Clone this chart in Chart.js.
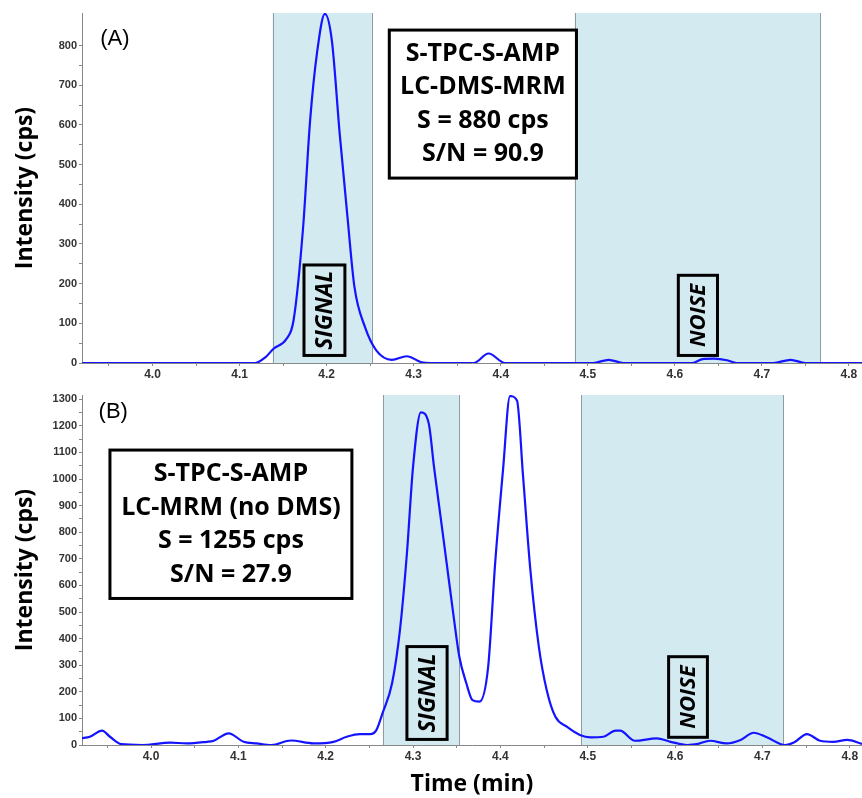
<!DOCTYPE html>
<html>
<head>
<meta charset="utf-8">
<script src="https://cdn.jsdelivr.net/npm/chart.js@4.4.1/dist/chart.umd.min.js"></script>
<style>
  body { margin: 0; background: #fff; }
  .panel { position: absolute; left: 0; width: 862px; }
  #panelA { top: 0; height: 380px; }
  #panelB { top: 380px; height: 418px; }
</style>
</head>
<body>
<div class="panel" id="panelA"><canvas id="chartA"></canvas></div>
<div class="panel" id="panelB"><canvas id="chartB"></canvas></div>
<script>
// (A) LC-DMS-MRM trace
const timeA = [3.919, 4.118, 4.130, 4.139, 4.154, 4.162, 4.173, 4.181, 4.189, 4.198,
  4.206, 4.215, 4.224, 4.232, 4.244, 4.257, 4.275, 4.292, 4.309, 4.320,
  4.369, 4.386, 4.405, 4.506, 4.524, 4.541, 4.620, 4.632, 4.645, 4.660,
  4.671, 4.713, 4.733, 4.750, 4.815];
const intensityA = [0, 0, 15, 36, 61, 107, 342, 610, 782, 880,
  813, 578, 367, 191, 91, 32, 8, 17, 2, 0,
  0, 24, 0, 0, 8, 0, 0, 10, 11, 7,
  0, 0, 8, 0, 0];

// (B) LC-MRM trace (no DMS)
const timeB = [3.920, 3.930, 3.944, 3.953, 3.966, 3.990, 4.022, 4.041, 4.064, 4.071,
  4.089, 4.106, 4.121, 4.138, 4.160, 4.186, 4.209, 4.224, 4.239, 4.251,
  4.258, 4.265, 4.276, 4.285, 4.293, 4.300, 4.309, 4.318, 4.324, 4.331,
  4.338, 4.346, 4.353, 4.361, 4.368, 4.376, 4.386, 4.394, 4.403, 4.411,
  4.419, 4.426, 4.434, 4.444, 4.453, 4.463, 4.476, 4.491, 4.503, 4.518,
  4.532, 4.537, 4.554, 4.579, 4.595, 4.614, 4.625, 4.640, 4.659, 4.675,
  4.690, 4.705, 4.726, 4.736, 4.751, 4.766, 4.781, 4.797, 4.814];
const intensityB = [25, 31, 54, 31, 3, 0, 9, 6, 12, 15,
  44, 12, 6, 0, 17, 6, 12, 31, 41, 41,
  56, 119, 232, 432, 721, 1046, 1251, 1209, 1046, 871,
  696, 495, 332, 232, 169, 163, 294, 683, 1034, 1312,
  1295, 1009, 670, 370, 207, 106, 69, 38, 29, 31,
  54, 54, 16, 25, 12, 0, 3, 16, 6, 19,
  46, 29, 0, 9, 41, 16, 12, 19, 4];

// axis ticks
const timeTicks = ['4.0', '4.1', '4.2', '4.3', '4.4', '4.5', '4.6', '4.7', '4.8'];
const timeMinorTicks = [3.95, 4.05, 4.15, 4.25, 4.35, 4.45, 4.55, 4.65, 4.75];
const intensityTicksA = [0, 100, 200, 300, 400, 500, 600, 700, 800];
const intensityTicksB = [0, 100, 200, 300, 400, 500, 600, 700, 800, 900, 1000, 1100, 1200, 1300];

// integration windows [start, end] in min
const signalA = [4.138, 4.252];
const noiseA = [4.485, 4.767];
const signalB = [4.2654, 4.353];
const noiseB = [4.4926, 4.724];

const BOLD = "'Open Sans', 'Noto Sans', sans-serif";
const TICKFONT = "'Liberation Sans', Arial, sans-serif";

// shaded windows, label boxes and the panel letter (one plugin per chart)
function panelMarks(cfg) {
    return {
        id: 'panelMarks',
        beforeDatasetsDraw(chart) {
            const { ctx, chartArea: a, scales: { x } } = chart;
            ctx.save();
            cfg.shades.forEach(win => {
                const l = x.getPixelForValue(win[0]);
                const r = x.getPixelForValue(win[1]);
                ctx.fillStyle = '#d4eaf1';
                ctx.fillRect(l, a.top, r - l, a.bottom - a.top);
                ctx.strokeStyle = '#8f9ca1';
                ctx.lineWidth = 1;
                ctx.beginPath();
                [l, r].forEach(px => {
                    ctx.moveTo(Math.round(px) + 0.5, a.top);
                    ctx.lineTo(Math.round(px) + 0.5, a.bottom);
                });
                ctx.stroke();
            });
            ctx.restore();
        },
        afterDatasetsDraw(chart) {
            const { ctx, scales: { x, y } } = chart;
            ctx.save();
            cfg.boxes.forEach(b => {
                const l = x.getPixelForValue(b.t[0]);
                const r = x.getPixelForValue(b.t[1]);
                const top = y.getPixelForValue(b.i[1]);
                const bot = y.getPixelForValue(b.i[0]);
                if (b.bg) {
                    ctx.fillStyle = b.bg;
                    ctx.fillRect(l, top, r - l, bot - top);
                }
                ctx.lineWidth = 3;
                ctx.strokeStyle = '#000';
                ctx.strokeRect(l, top, r - l, bot - top);
                ctx.fillStyle = '#000';
                ctx.font = b.textFont;
                ctx.textAlign = 'center';
                ctx.textBaseline = 'middle';
                const cx = (l + r) / 2, cy = (top + bot) / 2;
                if (b.rotate) {
                    ctx.save();
                    ctx.translate(cx, cy);
                    ctx.rotate(-Math.PI / 2);
                    ctx.fillText(b.lines[0], 0, 1);
                    ctx.restore();
                } else {
                    b.lines.forEach((s, k) => {
                        ctx.fillText(s, cx, cy + (k - (b.lines.length - 1) / 2) * b.gap);
                    });
                }
            });
            ctx.font = "22px " + TICKFONT;
            ctx.fillStyle = '#000';
            ctx.textAlign = 'left';
            ctx.textBaseline = 'middle';
            ctx.fillText(cfg.tag.text, x.getPixelForValue(cfg.tag.t), y.getPixelForValue(cfg.tag.i));
            ctx.restore();
        }
    };
}

function makeChart(id, times, values, cfg) {
    const points = times.map((t, k) => ({ x: t, y: values[k] }));
    const yTicks = cfg.yTicks;
    return new Chart(document.getElementById(id), {
        type: 'line',
        data: {
            datasets: [{
                data: points,
                borderColor: '#1414ff',
                borderWidth: 2.2,
                pointRadius: 0,
                fill: false,
                cubicInterpolationMode: 'monotone'
            }]
        },
        options: {
            responsive: true,
            maintainAspectRatio: false,
            animation: false,
            layout: { padding: { top: cfg.top, right: 0, bottom: 0, left: 0 } },
            plugins: {
                legend: { display: false },
                tooltip: { enabled: false }
            },
            scales: {
                x: {
                    type: 'linear',
                    min: cfg.xMin,
                    max: cfg.xMax,
                    afterBuildTicks: scale => {
                        const vals = timeTicks.map(parseFloat).concat(timeMinorTicks);
                        vals.sort((p, q) => p - q);
                        scale.ticks = vals.map(v => ({ value: v }));
                    },
                    afterFit: scale => { scale.height = cfg.xHeight; },
                    ticks: {
                        autoSkip: false,
                        maxRotation: 0,
                        padding: 1,
                        color: '#333',
                        font: { family: TICKFONT, size: 12, weight: 'bold' },
                        callback: v => {
                            const s = v.toFixed(1);
                            return (timeTicks.includes(s) && Math.abs(v - parseFloat(s)) < 1e-9) ? s : '';
                        }
                    },
                    grid: { drawOnChartArea: false, tickLength: 3, color: '#888' },
                    border: { color: '#888' },
                    title: {
                        display: cfg.xTitle,
                        text: 'Time (min)',
                        color: '#000',
                        font: { family: BOLD, size: 23, weight: 'bold' },
                        padding: { top: 0, bottom: 0 }
                    }
                },
                y: {
                    min: 0,
                    max: cfg.yMax,
                    afterBuildTicks: scale => {
                        const vals = [];
                        yTicks.forEach((v, k) => {
                            vals.push(v);
                            if (k < yTicks.length - 1) vals.push((v + yTicks[k + 1]) / 2);
                        });
                        scale.ticks = vals.map(v => ({ value: v }));
                    },
                    afterFit: scale => { scale.width = 82; },
                    ticks: {
                        autoSkip: false,
                        padding: 2,
                        color: '#333',
                        font: { family: TICKFONT, size: 11, weight: 'bold' },
                        callback: v => yTicks.includes(v) ? String(v) : ''
                    },
                    grid: { drawOnChartArea: false, tickLength: 3, color: '#888' },
                    border: { color: '#888' },
                    title: {
                        display: true,
                        text: 'Intensity (cps)',
                        color: '#000',
                        font: { family: BOLD, size: 23, weight: 'bold' },
                        padding: { top: 12, bottom: 0 }
                    }
                }
            }
        },
        plugins: [panelMarks(cfg)]
    });
}

makeChart('chartA', timeA, intensityA, {
    top: 13, xHeight: 17, xMin: 3.919, xMax: 4.815, yMax: 882,
    yTicks: intensityTicksA, xTitle: false,
    shades: [signalA, noiseA],
    tag: { text: '(A)', t: 3.940, i: 817 },
    boxes: [
        { t: [4.272, 4.487], i: [466, 839], bg: '#fff', textFont: "bold 25px " + BOLD, gap: 33.5,
          lines: ['S-TPC-S-AMP', 'LC-DMS-MRM', 'S = 880 cps', 'S/N = 90.9'] },
        { t: [4.174, 4.221], i: [19, 247], textFont: "italic bold 23px " + BOLD, rotate: true, lines: ['SIGNAL'] },
        { t: [4.604, 4.649], i: [19, 221], textFont: "italic bold 22px " + BOLD, rotate: true, lines: ['NOISE'] }
    ]
});

makeChart('chartB', timeB, intensityB, {
    top: 15, xHeight: 53, xMin: 3.921, xMax: 4.814, yMax: 1316,
    yTicks: intensityTicksB, xTitle: true,
    shades: [signalB, noiseB],
    tag: { text: '(B)', t: 3.940, i: 1252 },
    boxes: [
        { t: [3.953, 4.230], i: [551, 1109], bg: '#fff', textFont: "bold 25px " + BOLD, gap: 33.5,
          lines: ['S-TPC-S-AMP', 'LC-MRM (no DMS)', 'S = 1255 cps', 'S/N = 27.9'] },
        { t: [4.293, 4.339], i: [21, 370], textFont: "italic bold 23px " + BOLD, rotate: true, lines: ['SIGNAL'] },
        { t: [4.5926, 4.637], i: [29, 332], textFont: "italic bold 22px " + BOLD, rotate: true, lines: ['NOISE'] }
    ]
});
</script>
</body>
</html>
